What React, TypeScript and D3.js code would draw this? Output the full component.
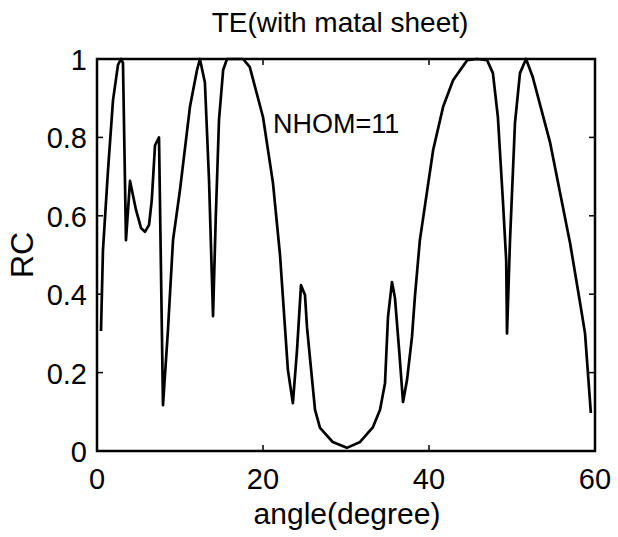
import React from "react";
import * as d3 from "d3";

const angle = [0.48, 0.72, 1.33, 1.93, 2.53, 2.89, 3.13, 3.49, 3.98, 4.7, 5.3, 5.78, 6.27, 6.6, 6.99, 7.47, 7.95, 8.55, 9.16, 10.0, 11.2, 12.05, 12.4, 13.0, 13.5, 13.98, 14.3, 14.7, 15.2, 15.66, 16.6, 17.6, 18.4, 20.0, 21.2, 22.05, 23.0, 23.6, 24.1, 24.58, 25.06, 25.3, 25.8, 26.27, 26.87, 28.4, 30.1, 31.7, 33.25, 34.1, 34.7, 35.06, 35.54, 35.9, 36.4, 36.87, 37.35, 37.95, 38.3, 38.9, 40.5, 41.7, 42.9, 44.6, 45.8, 47.0, 47.7, 48.3, 48.9, 49.3, 49.4, 49.76, 50.36, 50.96, 51.69, 52.5, 54.6, 57.0, 58.2, 58.8, 59.5];
const rc = [0.306, 0.513, 0.717, 0.895, 0.985, 1.0, 0.99, 0.538, 0.689, 0.615, 0.569, 0.559, 0.577, 0.64, 0.78, 0.8, 0.117, 0.309, 0.538, 0.666, 0.878, 0.972, 1.0, 0.94, 0.69, 0.344, 0.59, 0.845, 0.972, 1.0, 1.0, 1.0, 0.98, 0.852, 0.684, 0.5, 0.207, 0.122, 0.258, 0.423, 0.398, 0.316, 0.207, 0.105, 0.059, 0.023, 0.008, 0.023, 0.061, 0.105, 0.173, 0.342, 0.431, 0.39, 0.258, 0.125, 0.181, 0.291, 0.393, 0.538, 0.768, 0.878, 0.946, 0.997, 1.0, 0.997, 0.964, 0.852, 0.64, 0.487, 0.3, 0.538, 0.837, 0.964, 1.0, 0.954, 0.786, 0.53, 0.378, 0.3, 0.097];
const xTicks = [0, 20, 40, 60];
const yTicks = [0, 0.2, 0.4, 0.6, 0.8, 1];
const xTickLabels = ["0", "20", "40", "60"];
const yTickLabels = ["0", "0.2", "0.4", "0.6", "0.8", "1"];
const title = "TE(with matal sheet)";
const xLabel = "angle(degree)";
const yLabel = "RC";
const note = "NHOM=11";

export default function App() {
  const W = 618, H = 537;
  const left = 97, right = 595, top = 59, bottom = 451;
  const x = d3.scaleLinear().domain([0, 60]).range([left, right]);
  const y = d3.scaleLinear().domain([0, 1]).range([bottom, top]);
  const data = angle.map((a, i) => [a, rc[i]] as [number, number]);
  const line = d3.line<[number, number]>().x(d => x(d[0])).y(d => y(d[1]));
  const font = "'Liberation Sans', Arial, Helvetica, sans-serif";
  const tl = 6;
  return (
    <svg width={W} height={H} style={{ position: "absolute", left: 0, top: 0, background: "#fff" }} fontFamily={font}>
      <rect x={0} y={0} width={W} height={H} fill="#fff" />
      <path d={line(data) || ""} fill="none" stroke="#000" strokeWidth={2.7} strokeLinejoin="round" />
      <rect x={left} y={top} width={right - left} height={bottom - top} fill="none" stroke="#000" strokeWidth={2.5} />
      {xTicks.map((t, i) => (
        <g key={"x" + i}>
          <line x1={x(t)} x2={x(t)} y1={bottom} y2={bottom - tl} stroke="#000" strokeWidth={1.5} />
          <line x1={x(t)} x2={x(t)} y1={top} y2={top + tl} stroke="#000" strokeWidth={1.5} />
          <text x={x(t)} y={489} textAnchor="middle" fontSize={29}>{xTickLabels[i]}</text>
        </g>
      ))}
      {yTicks.map((t, i) => (
        <g key={"y" + i}>
          <line x1={left} x2={left + tl} y1={y(t)} y2={y(t)} stroke="#000" strokeWidth={1.5} />
          <line x1={right} x2={right - tl} y1={y(t)} y2={y(t)} stroke="#000" strokeWidth={1.5} />
          <text x={87} y={y(t) + 11} textAnchor="end" fontSize={29}>{yTickLabels[i]}</text>
        </g>
      ))}
      <text x={340} y={32} textAnchor="middle" fontSize={28}>{title}</text>
      <text x={347} y={524} textAnchor="middle" fontSize={30}>{xLabel}</text>
      <text transform={`translate(33,255) rotate(-90)`} textAnchor="middle" fontSize={32}>{yLabel}</text>
      <text x={273} y={133} fontSize={27}>{note}</text>
    </svg>
  );
}
